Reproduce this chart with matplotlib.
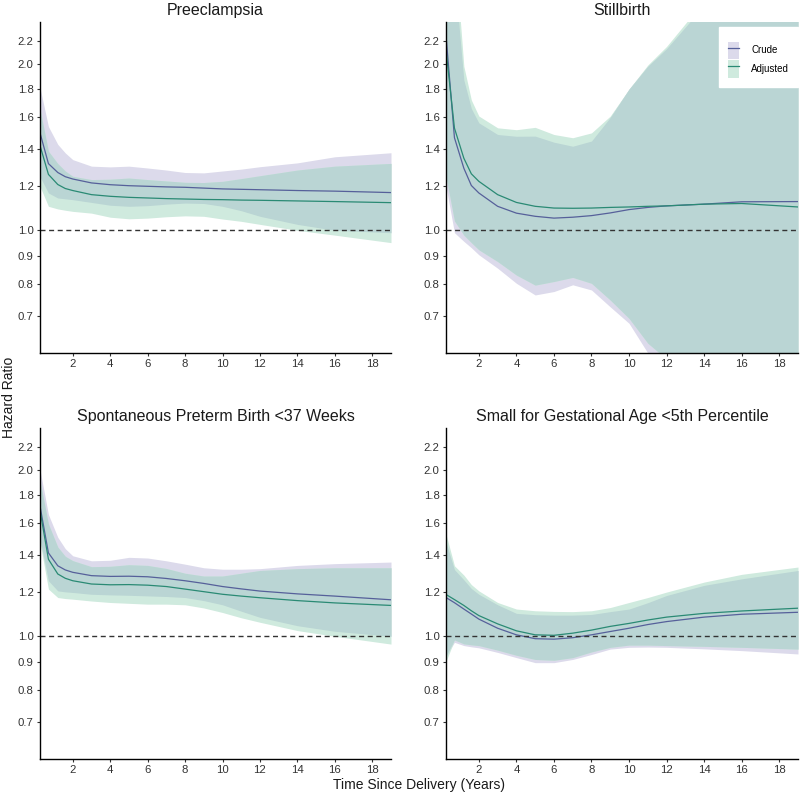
import numpy as np
import matplotlib
matplotlib.use("Agg")
import matplotlib.pyplot as plt
from matplotlib.patches import Patch
from matplotlib.lines import Line2D
from matplotlib.ticker import FixedLocator, NullLocator, FormatStrFormatter

plt.rcParams["font.family"] = ["Liberation Sans", "DejaVu Sans"]

# time grid (years since delivery)
years = [0.25, 0.7, 1.2, 1.6, 2, 3, 4, 5, 6, 7, 8, 9, 10, 11, 12, 14, 16, 19]

titles = ["Preeclampsia", "Stillbirth",
          "Spontaneous Preterm Birth <37 Weeks",
          "Small for Gestational Age <5th Percentile"]

# Preeclampsia
pe_crude = [1.50, 1.32, 1.272, 1.25, 1.238, 1.218, 1.209, 1.204, 1.201, 1.198, 1.196, 1.192, 1.188, 1.186, 1.184, 1.180, 1.177, 1.170]
pe_crude_lo = [1.25, 1.168, 1.144, 1.14, 1.136, 1.123, 1.11, 1.105, 1.108, 1.115, 1.12, 1.118, 1.105, 1.085, 1.06, 1.025, 1.0, 0.99]
pe_crude_hi = [1.81, 1.54, 1.43, 1.38, 1.342, 1.306, 1.302, 1.306, 1.296, 1.285, 1.272, 1.27, 1.28, 1.29, 1.303, 1.324, 1.358, 1.381]
pe_adj = [1.423, 1.262, 1.21, 1.19, 1.18, 1.16, 1.152, 1.147, 1.144, 1.141, 1.139, 1.137, 1.136, 1.134, 1.133, 1.130, 1.127, 1.122]
pe_adj_lo = [1.20, 1.105, 1.093, 1.087, 1.082, 1.074, 1.056, 1.049, 1.052, 1.058, 1.062, 1.06, 1.048, 1.038, 1.025, 1.0, 0.98, 0.95]
pe_adj_hi = [1.654, 1.39, 1.32, 1.28, 1.252, 1.235, 1.237, 1.243, 1.235, 1.228, 1.221, 1.22, 1.226, 1.24, 1.255, 1.285, 1.306, 1.321]

# Stillbirth
sb_crude = [2.25, 1.47, 1.295, 1.205, 1.168, 1.105, 1.074, 1.06, 1.052, 1.056, 1.063, 1.075, 1.09, 1.1, 1.107, 1.115, 1.126, 1.127]
sb_crude_lo = [1.20, 0.99, 0.955, 0.93, 0.903, 0.854, 0.802, 0.764, 0.775, 0.797, 0.78, 0.727, 0.679, 0.60, 0.57, 0.48, 0.41, 0.32]
sb_crude_hi = [4.5, 2.9, 1.87, 1.66, 1.564, 1.49, 1.479, 1.48, 1.443, 1.419, 1.45, 1.60, 1.80, 1.98, 2.13, 2.55, 3.1, 4.0]
sb_adj = [2.12, 1.53, 1.35, 1.265, 1.226, 1.16, 1.123, 1.105, 1.097, 1.096, 1.097, 1.10, 1.102, 1.105, 1.107, 1.115, 1.118, 1.102]
sb_adj_lo = [1.25, 1.04, 0.98, 0.95, 0.922, 0.878, 0.83, 0.796, 0.808, 0.822, 0.802, 0.748, 0.693, 0.625, 0.585, 0.50, 0.43, 0.34]
sb_adj_hi = [5.0, 3.3, 1.98, 1.72, 1.609, 1.532, 1.52, 1.535, 1.49, 1.47, 1.50, 1.609, 1.80, 1.99, 2.15, 2.6, 3.2, 4.2]

# Spontaneous preterm birth
pt_crude = [1.72, 1.415, 1.341, 1.318, 1.305, 1.287, 1.283, 1.284, 1.281, 1.272, 1.26, 1.246, 1.23, 1.218, 1.207, 1.193, 1.182, 1.164]
pt_crude_lo = [1.50, 1.26, 1.208, 1.203, 1.2, 1.191, 1.188, 1.186, 1.183, 1.18, 1.175, 1.16, 1.14, 1.11, 1.082, 1.045, 1.021, 1.0]
pt_crude_hi = [2.0, 1.66, 1.51, 1.44, 1.398, 1.369, 1.372, 1.389, 1.385, 1.369, 1.35, 1.33, 1.322, 1.322, 1.325, 1.343, 1.353, 1.362]
pt_adj = [1.69, 1.378, 1.296, 1.273, 1.26, 1.243, 1.239, 1.240, 1.237, 1.23, 1.217, 1.204, 1.191, 1.182, 1.174, 1.16, 1.149, 1.137]
pt_adj_lo = [1.48, 1.217, 1.175, 1.17, 1.167, 1.158, 1.151, 1.147, 1.143, 1.143, 1.14, 1.125, 1.104, 1.08, 1.06, 1.024, 1.0, 0.968]
pt_adj_hi = [1.91, 1.596, 1.45, 1.395, 1.37, 1.336, 1.338, 1.347, 1.343, 1.326, 1.30, 1.285, 1.285, 1.30, 1.315, 1.325, 1.33, 1.33]

# Small for gestational age
sga_crude = [1.175, 1.15, 1.12, 1.097, 1.074, 1.034, 1.006, 0.99, 0.988, 0.994, 1.006, 1.02, 1.034, 1.05, 1.063, 1.083, 1.096, 1.105]
sga_crude_lo = [0.92, 0.975, 0.962, 0.957, 0.953, 0.935, 0.915, 0.896, 0.896, 0.908, 0.927, 0.948, 0.955, 0.956, 0.955, 0.949, 0.942, 0.929]
sga_crude_hi = [1.48, 1.32, 1.265, 1.22, 1.191, 1.14, 1.10, 1.094, 1.092, 1.092, 1.095, 1.108, 1.12, 1.15, 1.185, 1.236, 1.27, 1.315]
sga_adj = [1.19, 1.165, 1.137, 1.112, 1.09, 1.053, 1.023, 1.006, 1.004, 1.013, 1.026, 1.042, 1.055, 1.07, 1.083, 1.10, 1.111, 1.124]
sga_adj_lo = [0.90, 0.985, 0.969, 0.965, 0.962, 0.944, 0.924, 0.908, 0.905, 0.915, 0.937, 0.955, 0.964, 0.964, 0.962, 0.959, 0.955, 0.948]
sga_adj_hi = [1.53, 1.341, 1.29, 1.24, 1.208, 1.151, 1.12, 1.112, 1.109, 1.108, 1.112, 1.127, 1.151, 1.175, 1.202, 1.253, 1.294, 1.334]

panels = [
    (pe_crude, pe_crude_lo, pe_crude_hi, pe_adj, pe_adj_lo, pe_adj_hi),
    (sb_crude, sb_crude_lo, sb_crude_hi, sb_adj, sb_adj_lo, sb_adj_hi),
    (pt_crude, pt_crude_lo, pt_crude_hi, pt_adj, pt_adj_lo, pt_adj_hi),
    (sga_crude, sga_crude_lo, sga_crude_hi, sga_adj, sga_adj_lo, sga_adj_hi),
]

y_ticks = [0.7, 0.8, 0.9, 1.0, 1.2, 1.4, 1.6, 1.8, 2.0, 2.2]
x_ticks = [2, 4, 6, 8, 10, 12, 14, 16, 18]

crude_line = "#56609a"
adj_line = "#2a8a74"
crude_band = "#dcdaeb"
adj_band = "#cfeade"
both_band = "#bad5d4"

fig = plt.figure(figsize=(8, 7.94), dpi=100)
# [left, bottom, width, height] in figure fractions
boxes = [
    [0.050, 0.5554, 0.43875, 0.4169],
    [0.5575, 0.5554, 0.440, 0.4169],
    [0.050, 0.0441, 0.43875, 0.4169],
    [0.5575, 0.0441, 0.440, 0.4169],
]

t = np.array(years)
for i, (box, title, series) in enumerate(zip(boxes, titles, panels)):
    crude, crude_lo, crude_hi, adj, adj_lo, adj_hi = [np.array(s) for s in series]
    ax = fig.add_axes(box)
    ax.fill_between(t, crude_lo, crude_hi, color=crude_band, lw=0)
    ax.fill_between(t, adj_lo, adj_hi, color=adj_band, lw=0)
    lo = np.maximum(crude_lo, adj_lo)
    hi = np.minimum(crude_hi, adj_hi)
    ax.fill_between(t, lo, hi, where=hi > lo, interpolate=True, color=both_band, lw=0)
    ax.plot(t, crude, color=crude_line, lw=0.9)
    ax.plot(t, adj, color=adj_line, lw=0.9)
    ax.axhline(1.0, color="#333333", lw=1.0, dashes=(3.6, 2.6))

    ax.set_yscale("log")
    ax.set_ylim(0.6, 2.38)
    ax.set_xlim(0.25, 19)
    ax.yaxis.set_major_locator(FixedLocator(y_ticks))
    ax.yaxis.set_minor_locator(NullLocator())
    ax.yaxis.set_major_formatter(FormatStrFormatter("%.1f"))
    ax.set_xticks(x_ticks)
    ax.set_xticklabels([str(v) for v in x_ticks])

    for s in ["top", "right"]:
        ax.spines[s].set_visible(False)
    for s in ["left", "bottom"]:
        ax.spines[s].set_linewidth(1.0)
        ax.spines[s].set_color("black")
    ax.tick_params(axis="both", length=2.5, width=0.8, color="#333333",
                   labelsize=8.2, labelcolor="#333333", pad=2)
    ax.set_title(title, fontsize=11.5, color="#1a1a1a", pad=5)

    if i == 1:
        handles = [(Patch(facecolor=crude_band, edgecolor="none"), Line2D([], [], color=crude_line, lw=0.9)),
                   (Patch(facecolor=adj_band, edgecolor="none"), Line2D([], [], color=adj_line, lw=0.9))]
        leg = ax.legend(handles, ["Crude", "Adjusted"], loc="upper right",
                        bbox_to_anchor=(1.0, 0.985), frameon=True, fancybox=False,
                        fontsize=7, handlelength=1.1, handleheight=2.4,
                        borderpad=0.9, labelspacing=0.1, handletextpad=1.3,
                        borderaxespad=0, title=" ", title_fontsize=4)
        leg.get_frame().set_edgecolor("white")
        leg.get_frame().set_facecolor("white")
        leg.get_frame().set_alpha(1)

fig.text(0.011, 0.5, "Hazard Ratio", rotation=90, ha="center", va="center", fontsize=10, color="#1a1a1a")
fig.text(0.524, 0.011, "Time Since Delivery (Years)", ha="center", va="center", fontsize=10, color="#1a1a1a")

fig.savefig("out.png", dpi=100)
